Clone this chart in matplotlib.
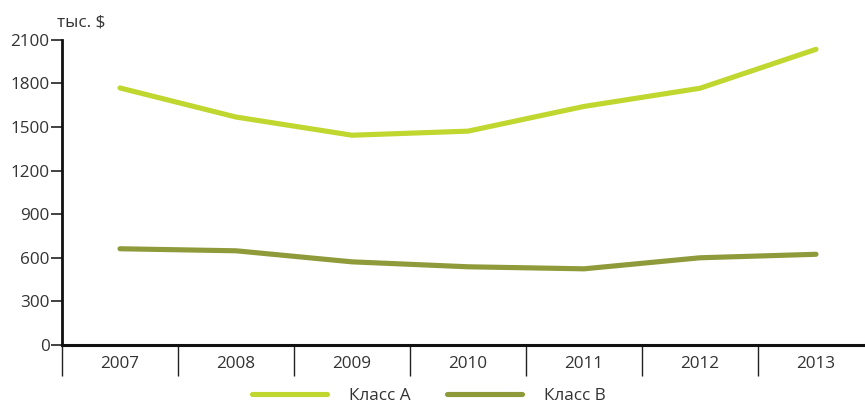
import matplotlib
matplotlib.use("Agg")
import matplotlib.pyplot as plt
from matplotlib.ticker import FixedLocator, NullFormatter

plt.rcParams['font.family'] = ['Open Sans', 'DejaVu Sans']

years = ["2007", "2008", "2009", "2010", "2011", "2012", "2013"]
class_a = [1768, 1568, 1443, 1471, 1641, 1766, 2034]
class_b = [662, 648, 572, 538, 524, 600, 624]
y_ticks = [0, 300, 600, 900, 1200, 1500, 1800, 2100]
series_names = ["Класс А", "Класс В"]
unit_label = "тыс. $"

col_a = "#C0D72F"
col_b = "#8F9A3A"
txt = "#333333"
fs = 12.3

W, H = 865, 405
fig = plt.figure(figsize=(W / 100, H / 100), dpi=100)
ax = fig.add_axes([62 / W, 1 - 345 / H, 1 - 62 / W, (345 - 39.7) / H])

x = list(range(len(years)))
ax.plot(x, class_a, color=col_a, lw=3.7, solid_capstyle='round', label=series_names[0])
ax.plot(x, class_b, color=col_b, lw=3.7, solid_capstyle='round', label=series_names[1])

band = 116 / (W - 62)  # fraction of axes per category
ax.set_xlim(-0.5, -0.5 + 1 / band)
ax.set_ylim(0, 2100)

ax.set_yticks(y_ticks)
ax.set_yticklabels([str(v) for v in y_ticks])
ax.set_xticks(x)
ax.set_xticklabels(years)
ax.xaxis.set_minor_locator(FixedLocator([i + 0.5 for i in range(-1, len(years) - 1)]))
ax.xaxis.set_minor_formatter(NullFormatter())

for s in ['top', 'right']:
    ax.spines[s].set_visible(False)
ax.spines['left'].set_linewidth(2)
ax.spines['bottom'].set_linewidth(2.2)
ax.spines['left'].set_color('#111111')
ax.spines['bottom'].set_color('#111111')

ax.tick_params(axis='y', length=8, width=1.3, color='#333333', pad=1,
               labelsize=fs, labelcolor=txt)
ax.tick_params(axis='x', which='major', length=0, pad=8, labelsize=fs, labelcolor=txt)
ax.tick_params(axis='x', which='minor', length=22, width=1, color='#222222', direction='out')

fig.text(57 / W, 1 - 22 / H, unit_label, fontsize=fs, color=txt, va='center', ha='left')

leg = fig.legend(loc='center', bbox_to_anchor=(429 / W, 1 - 396 / H), ncol=2,
                 frameon=False, fontsize=fs, handlelength=4.4, handletextpad=1.3,
                 columnspacing=2.1, labelcolor=txt, borderaxespad=0, borderpad=0)

fig.savefig("out.png", dpi=100)
